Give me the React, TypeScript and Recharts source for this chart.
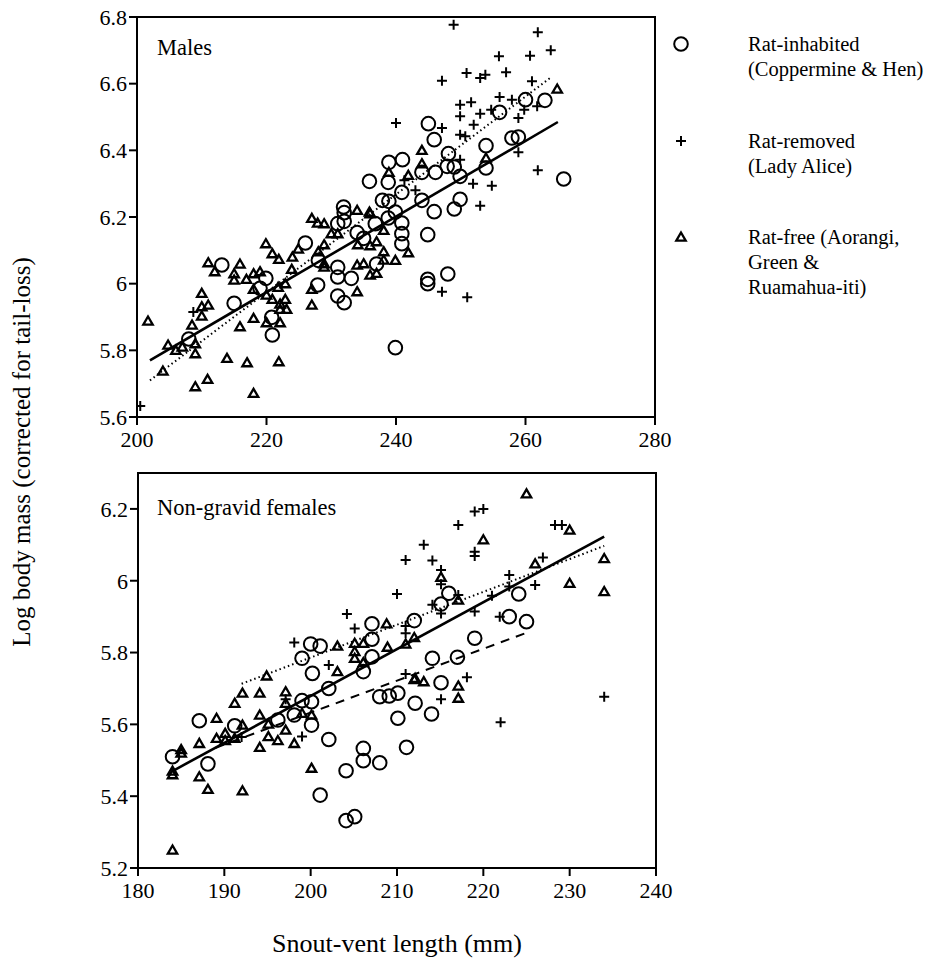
import React from 'react';
import { ScatterChart, Scatter, XAxis, YAxis, ReferenceLine, ReferenceArea } from 'recharts';

// ---- Males panel ----
const maleXTicks = [200, 220, 240, 260, 280];
const maleYTicks = [5.6, 5.8, 6, 6.2, 6.4, 6.6, 6.8];

const maleInhabited: [number, number][] = [
  [245, 6.48], [245.9, 6.432], [238.9, 6.364], [241, 6.372], [235.9, 6.307], [238.8, 6.304],
  [244, 6.334], [246.1, 6.334], [240.9, 6.274], [237.9, 6.25], [238.9, 6.247], [244, 6.25],
  [239.9, 6.215], [231.9, 6.23], [232, 6.213], [232, 6.187], [231, 6.18], [245.9, 6.216],
  [260, 6.552], [263, 6.55], [256, 6.514], [257.9, 6.437], [258.9, 6.44], [253.9, 6.414],
  [248.1, 6.39], [247.9, 6.352], [249, 6.35], [249.9, 6.322], [253.9, 6.347], [265.9, 6.314],
  [249.9, 6.253], [249, 6.224], [236.8, 6.18], [238.8, 6.197], [240.9, 6.182], [234, 6.153],
  [235, 6.136], [240.9, 6.15], [240.9, 6.12], [244.9, 6.147], [226, 6.122], [228, 6.07],
  [231, 6.049], [231, 6.02], [233.1, 6.016], [231, 5.963], [232, 5.943], [237, 6.059],
  [244.9, 6.013], [244.9, 6.0], [248, 6.029], [239.9, 5.808], [213.1, 6.056], [219.9, 6.016],
  [219, 5.986], [227.9, 5.996], [215, 5.941], [220.8, 5.899], [220.9, 5.846], [208, 5.834],
];

const maleRemoved: [number, number][] = [
  [240, 6.482], [241.3, 6.31], [243, 6.28], [248.9, 6.777], [261.9, 6.754], [263.9, 6.7],
  [260.7, 6.684], [255.9, 6.682], [247.1, 6.609], [250.9, 6.632], [253, 6.617], [253.8, 6.627],
  [257, 6.634], [261, 6.607], [256, 6.56], [257.9, 6.552], [249.9, 6.537], [251.6, 6.544],
  [249.9, 6.502], [253, 6.51], [254.7, 6.522], [259.8, 6.522], [261.8, 6.532], [258.9, 6.497],
  [247.1, 6.467], [252, 6.477], [249.9, 6.447], [250.7, 6.442], [258.9, 6.394], [249.9, 6.372],
  [261.9, 6.34], [251.9, 6.3], [254.8, 6.294], [253, 6.234], [247.1, 5.976], [251, 5.959],
  [200.5, 5.633], [208.7, 5.915],
];

const maleFree: [number, number][] = [
  [244, 6.4], [238.9, 6.334], [241.9, 6.325], [244, 6.36], [234, 6.22], [235.9, 6.215],
  [227, 6.196], [253.9, 6.377], [264.9, 6.584], [227.9, 6.182], [228.9, 6.18], [236, 6.21],
  [238.1, 6.16], [230, 6.15], [231, 6.15], [237, 6.126], [241.9, 6.093], [239.9, 6.07],
  [238.1, 6.096], [238.1, 6.071], [234.1, 6.117], [236, 6.114], [224.9, 6.104], [219.9, 6.12],
  [220.9, 6.09], [221.9, 6.073], [224, 6.08], [223.9, 6.043], [228, 6.096], [228.9, 6.117],
  [228.9, 6.06], [228.9, 6.05], [234, 6.056], [235, 6.06], [236, 6.026], [237, 6.031],
  [234, 5.976], [211, 6.063], [212, 6.036], [215.9, 6.059], [215, 6.03], [215, 6.011],
  [216.9, 6.013], [218, 6.03], [219, 6.036], [218, 5.983], [220, 5.966], [220.9, 5.953],
  [222.1, 5.939], [222.9, 5.953], [223.1, 5.923], [222.1, 5.923], [222.9, 6.0], [221.8, 5.989],
  [227, 5.983], [227, 5.936], [210, 5.971], [210, 5.931], [211, 5.936], [210, 5.903],
  [218, 5.896], [220, 5.883], [222.1, 5.883], [215.9, 5.871], [209, 5.82], [209, 5.79],
  [213.9, 5.776], [217, 5.763], [221.9, 5.766], [210.9, 5.713], [209, 5.691], [218, 5.671],
  [201.7, 5.888], [204, 5.738], [204.8, 5.816], [206, 5.8], [208.5, 5.876], [207, 5.81],
];

const maleSolid = [{ x: 202, y: 5.77 }, { x: 265, y: 6.485 }];
const maleDotted = [{ x: 202, y: 5.71 }, { x: 264, y: 6.62 }];

// ---- Non-gravid females panel ----
const femXTicks = [180, 190, 200, 210, 220, 230, 240];
const femYTicks = [5.2, 5.4, 5.6, 5.8, 6, 6.2];

const femInhabited: [number, number][] = [
  [216, 5.965], [215.1, 5.935], [207.1, 5.88], [212, 5.889], [207.1, 5.837], [200, 5.824],
  [201.1, 5.818], [199, 5.784], [207.1, 5.788], [206.1, 5.747], [200.2, 5.742], [214.1, 5.784],
  [217, 5.787], [224.1, 5.963], [223, 5.9], [225, 5.886], [219, 5.84], [202.1, 5.7],
  [199, 5.666], [200.1, 5.663], [198.1, 5.626], [196.2, 5.612], [200.1, 5.598], [202.1, 5.558],
  [191.2, 5.596], [187.1, 5.61], [188.1, 5.49], [201.1, 5.403], [204.1, 5.471], [206.1, 5.533],
  [206.1, 5.499], [208, 5.493], [204.1, 5.332], [205.1, 5.343], [208, 5.677], [209.1, 5.679],
  [210.1, 5.687], [212.1, 5.659], [210.1, 5.617], [214, 5.629], [215.1, 5.716], [211.1, 5.536],
  [184, 5.51],
];

const femRemoved: [number, number][] = [
  [217.1, 6.155], [213.1, 6.1], [211, 6.058], [214.1, 6.056], [215.1, 6.03], [215.1, 5.99],
  [210, 5.963], [217.1, 5.96], [214.1, 5.933], [215.1, 5.909], [204.2, 5.907], [205.1, 5.867],
  [211, 5.874], [211, 5.854], [198.1, 5.828], [202.1, 5.765], [211, 5.74], [219, 6.193],
  [220, 6.2], [228.3, 6.155], [229.1, 6.155], [219, 6.081], [219, 6.069], [226.9, 6.065],
  [223, 6.016], [226, 5.988], [223, 5.984], [221, 5.958], [219, 5.914], [221.9, 5.9],
  [218.1, 5.731], [197.1, 5.67], [199, 5.566], [215.1, 5.67], [234, 5.677], [222, 5.606],
  [192, 5.565],
];

const femFree: [number, number][] = [
  [215.1, 6.01], [217.1, 5.946], [208.8, 5.88], [211, 5.824], [212, 5.842], [208.9, 5.815],
  [203.1, 5.818], [205.1, 5.826], [205.1, 5.803], [205.1, 5.784], [206.1, 5.826], [206.1, 5.772],
  [203.1, 5.747], [194.9, 5.735], [212.1, 5.728], [225, 6.242], [230, 6.141], [220, 6.114],
  [234, 6.062], [226, 6.047], [230, 5.993], [234, 5.97], [192.1, 5.687], [194.1, 5.687],
  [197.1, 5.691], [191.2, 5.659], [197.1, 5.659], [199, 5.631], [200.1, 5.626], [198.1, 5.547],
  [194.1, 5.626], [195.1, 5.601], [197.1, 5.584], [195.1, 5.566], [196.2, 5.555], [194.1, 5.536],
  [192.1, 5.598], [189.1, 5.617], [190.1, 5.575], [189.1, 5.561], [190.1, 5.555], [191.2, 5.561],
  [187.1, 5.547], [187.1, 5.454], [188.1, 5.419], [192.1, 5.415], [200.1, 5.478], [212, 5.725],
  [213.1, 5.719], [217.1, 5.707], [217.1, 5.673], [184, 5.47], [184, 5.46], [185, 5.53],
  [185, 5.52], [184, 5.25],
];

const femSolid = [{ x: 184, y: 5.47 }, { x: 234, y: 6.123 }];
const femDotted = [{ x: 192, y: 5.713 }, { x: 234, y: 6.097 }];
const femDashed = [{ x: 189, y: 5.535 }, { x: 225, y: 5.855 }];

const legendItems = [
  { kind: 'circle', lines: ['Rat-inhabited', '(Coppermine & Hen)'] },
  { kind: 'plus', lines: ['Rat-removed', '(Lady Alice)'] },
  { kind: 'triangle', lines: ['Rat-free (Aorangi,', 'Green &', 'Ruamahua-iti)'] },
];

const FONT = "'Liberation Serif', 'DejaVu Serif', serif";
const toPts = (arr: [number, number][]) => arr.map(([x, y]) => ({ x, y }));
const fmtY = (v: number) => (v === 6 ? '6' : v.toFixed(1));

const CircleMark = (p: any) => (
  <circle cx={p.cx} cy={p.cy} r={6.8} fill="none" stroke="#000" strokeWidth={2} />
);
const PlusMark = (p: any) => (
  <path d={`M${p.cx - 5},${p.cy}H${p.cx + 5}M${p.cx},${p.cy - 5}V${p.cy + 5}`} stroke="#000" strokeWidth={2} />
);
const TriMark = (p: any) => (
  <path
    d={`M${p.cx},${p.cy - 4.5}L${p.cx + 4.7},${p.cy + 3.6}L${p.cx - 4.7},${p.cy + 3.6}Z`}
    fill="none"
    stroke="#000"
    strokeWidth={2.3}
    strokeLinejoin="miter"
  />
);

const tickStyle = { fill: '#000', fontSize: 22, fontFamily: FONT };
const axisLine = { stroke: '#000', strokeWidth: 2 };

function Panel(props: {
  width: number;
  height: number;
  margin: any;
  xDomain: [number, number];
  yDomain: [number, number];
  xTicks: number[];
  yTicks: number[];
  inhabited: [number, number][];
  removed: [number, number][];
  free: [number, number][];
  lines: { pts: { x: number; y: number }[]; dash?: string }[];
}) {
  return (
    <ScatterChart width={props.width} height={props.height} margin={props.margin}>
      <XAxis
        type="number"
        dataKey="x"
        domain={props.xDomain}
        ticks={props.xTicks}
        allowDataOverflow
        height={40}
        tick={tickStyle}
        tickSize={8}
        tickMargin={6}
        axisLine={axisLine}
        tickLine={axisLine}
        interval={0}
      />
      <YAxis
        type="number"
        dataKey="y"
        domain={props.yDomain}
        ticks={props.yTicks}
        allowDataOverflow
        width={60}
        tick={tickStyle}
        tickSize={8}
        tickMargin={2}
        tickFormatter={fmtY}
        axisLine={axisLine}
        tickLine={axisLine}
        interval={0}
      />
      <ReferenceArea
        x1={props.xDomain[0]}
        x2={props.xDomain[1]}
        y1={props.yDomain[0]}
        y2={props.yDomain[1]}
        fill="none"
        stroke="#000"
        strokeWidth={2}
      />
      {props.lines.map((l, i) => (
        <ReferenceLine
          key={i}
          segment={l.pts}
          stroke="#000"
          strokeWidth={l.dash ? 2 : 2.6}
          strokeDasharray={l.dash}
        />
      ))}
      <Scatter data={toPts(props.free)} shape={TriMark} isAnimationActive={false} />
      <Scatter data={toPts(props.removed)} shape={PlusMark} isAnimationActive={false} />
      <Scatter data={toPts(props.inhabited)} shape={CircleMark} isAnimationActive={false} />
    </ScatterChart>
  );
}

function LegendMark({ kind }: { kind: string }) {
  return (
    <svg width={18} height={18} style={{ position: 'absolute', left: 0, top: 3 }}>
      {kind === 'circle' && <CircleMark cx={9} cy={9} />}
      {kind === 'plus' && <PlusMark cx={9} cy={9} />}
      {kind === 'triangle' && <TriMark cx={9} cy={9} />}
    </svg>
  );
}

export default function App() {
  return (
    <div style={{ position: 'absolute', left: 0, top: 0, width: 936, height: 964, background: '#fff', fontFamily: FONT }}>
      <div style={{ position: 'absolute', left: 0, top: 0 }}>
        <Panel
          width={700}
          height={470}
          margin={{ top: 17, right: 45, bottom: 13, left: 77 }}
          xDomain={[200, 280]}
          yDomain={[5.6, 6.8]}
          xTicks={maleXTicks}
          yTicks={maleYTicks}
          inhabited={maleInhabited}
          removed={maleRemoved}
          free={maleFree}
          lines={[{ pts: maleSolid }, { pts: maleDotted, dash: '1.5 3' }]}
        />
      </div>
      <div style={{ position: 'absolute', left: 0, top: 440 }}>
        <Panel
          width={700}
          height={500}
          margin={{ top: 33, right: 44, bottom: 32, left: 78 }}
          xDomain={[180, 240]}
          yDomain={[5.2, 6.3]}
          xTicks={femXTicks}
          yTicks={femYTicks}
          inhabited={femInhabited}
          removed={femRemoved}
          free={femFree}
          lines={[
            { pts: femSolid },
            { pts: femDotted, dash: '1.5 3' },
            { pts: femDashed, dash: '9 7' },
          ]}
        />
      </div>
      <div style={{ position: 'absolute', left: 157, top: 35, fontSize: 22.5 }}>Males</div>
      <div style={{ position: 'absolute', left: 157, top: 495, fontSize: 22.5 }}>Non-gravid females</div>
      <div
        style={{
          position: 'absolute',
          left: 22,
          top: 452,
          fontSize: 25,
          whiteSpace: 'nowrap',
          transform: 'translate(-50%, -50%) rotate(-90deg)',
        }}
      >
        Log body mass (corrected for tail-loss)
      </div>
      <div
        style={{
          position: 'absolute',
          left: 397,
          top: 944,
          fontSize: 26,
          whiteSpace: 'nowrap',
          transform: 'translate(-50%, -50%)',
        }}
      >
        Snout-vent length (mm)
      </div>
      {legendItems.map((it, i) => (
        <div key={it.kind} style={{ position: 'absolute', left: 672, top: 32 + i * 96.5, fontSize: 20.5, lineHeight: '25px' }}>
          <LegendMark kind={it.kind} />
          {it.lines.map((t) => (
            <div key={t} style={{ marginLeft: 76, whiteSpace: 'nowrap' }}>
              {t}
            </div>
          ))}
        </div>
      ))}
    </div>
  );
}
